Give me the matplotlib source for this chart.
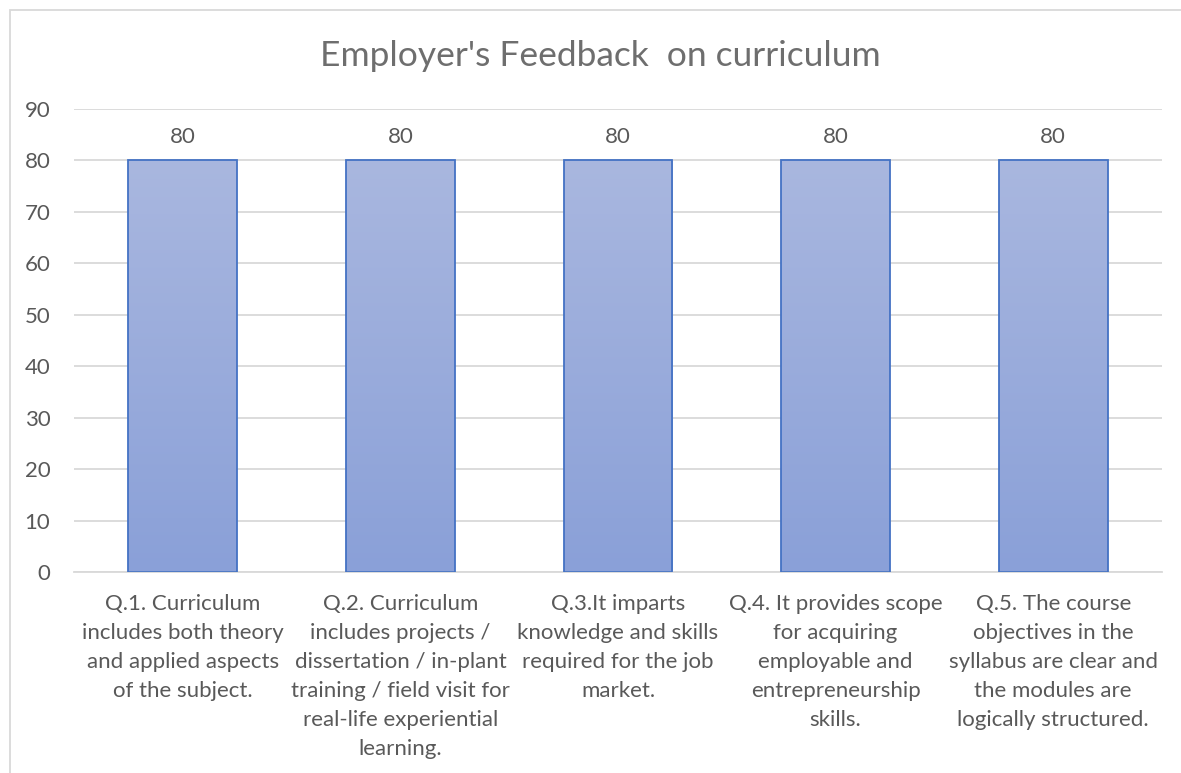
import numpy as np
import matplotlib.pyplot as plt
from matplotlib.patches import Rectangle
from matplotlib.colors import LinearSegmentedColormap

# Data
questions = [
    "Q.1. Curriculum\nincludes both theory\nand applied aspects\nof the subject.",
    "Q.2. Curriculum\nincludes projects /\ndissertation / in-plant\ntraining / field visit for\nreal-life experiential\nlearning.",
    "Q.3.It imparts\nknowledge and skills\nrequired for the job\nmarket.",
    "Q.4. It provides scope\nfor acquiring\nemployable and\nentrepreneurship\nskills.",
    "Q.5. The course\nobjectives in the\nsyllabus are clear and\nthe modules are\nlogically structured.",
]
scores = [80, 80, 80, 80, 80]
yticks = list(range(0, 100, 10))

plt.rcParams['font.family'] = ['Lato', 'DejaVu Sans']
txt = '#595959'
grid = '#D9D9D9'

fig = plt.figure(figsize=(11.81, 7.73), dpi=100)
ax = fig.add_axes([0.0627, 0.260, 0.9212, 0.599])

x = np.arange(len(questions))
bars = ax.bar(x, scores, width=0.5, color='none', edgecolor='#4472C4',
              linewidth=1.3, zorder=3)

# gradient fill, clipped to each bar
grad = np.linspace(0, 1, 256).reshape(-1, 1)
cmap = LinearSegmentedColormap.from_list('g', ['#A9B7DF', '#8AA0D8'])
for b in bars:
    x0, y0 = b.get_x(), b.get_y()
    w, h = b.get_width(), b.get_height()
    im = ax.imshow(grad, cmap=cmap, aspect='auto', origin='upper',
                   extent=[x0, x0 + w, y0, y0 + h], zorder=2)
    im.set_clip_path(b)

ax.set_xlim(-0.5, len(questions) - 0.5)
ax.set_ylim(0, 90)
ax.set_yticks(yticks)
ax.set_xticks(x)
ax.set_xticklabels(questions, fontsize=16, color=txt, linespacing=1.56)
ax.tick_params(axis='y', labelsize=16, colors=txt, length=0, pad=17)
ax.tick_params(axis='x', length=0, pad=16)
ax.yaxis.grid(True, color=grid, linewidth=1.3, zorder=0)
ax.set_axisbelow(True)
for s in ['top', 'right', 'left']:
    ax.spines[s].set_visible(False)
ax.spines['bottom'].set_color(grid)
ax.spines['bottom'].set_linewidth(1.3)

ax.bar_label(bars, padding=10, fontsize=16, color=txt)

fig.text(0.508, 0.928, "Employer's Feedback  on curriculum", ha='center',
         va='center', fontsize=25.5, color='#6E6E6E')

# chart border
fig.patches.append(Rectangle((10 / 1181, -0.05), 1.1, 763 / 773 + 0.05,
                             transform=fig.transFigure, fill=False,
                             edgecolor=grid, linewidth=1.3))

fig.savefig('out.png', dpi=100)
